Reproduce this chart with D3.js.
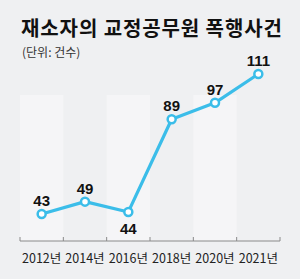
<!DOCTYPE html>
<html>
<head>
<meta charset="utf-8">
<script src="https://cdn.jsdelivr.net/npm/d3@7"></script>
<style>
  body { margin: 0; padding: 0; background: #fff; }
  svg { display: block; font-family: "Noto Sans CJK KR", "Noto Sans", sans-serif; }
</style>
</head>
<body>
<script>
var years = ["2012년", "2014년", "2016년", "2018년", "2020년", "2021년"];
var cases = [43, 49, 44, 89, 97, 111];
var labelBelow = [false, false, true, false, false, false];

var width = 300, height = 279;

var svg = d3.select("body").append("svg")
  .attr("width", width)
  .attr("height", height);

// background
svg.append("rect").attr("width", width).attr("height", height).attr("fill", "#eff0f2");

var x = d3.scaleBand().domain(years).range([20, 280]);
var y = d3.scaleLinear().domain([43, 111]).range([214, 74]);
var axisY = 241;

// lighter bands
svg.append("g").selectAll("rect")
  .data(years.filter(function(d, i) { return i % 2 == 0; }))
  .enter().append("rect")
  .attr("x", function(d) { return x(d); })
  .attr("y", 95)
  .attr("width", x.bandwidth())
  .attr("height", axisY - 95)
  .attr("fill", "#f5f5f7");

// title
svg.append("text").attr("x", 21).attr("y", 36)
  .attr("font-size", 20).attr("font-weight", "bold").attr("fill", "#111")
  .attr("letter-spacing", 0.9)
  .text("재소자의 교정공무원 폭행사건");
svg.append("text").attr("x", 22).attr("y", 57)
  .attr("font-size", 12).attr("fill", "#333")
  .text("(단위: 건수)");

// axis
var ax = svg.append("g").attr("transform", "translate(0," + axisY + ")");
ax.append("line").attr("x1", 20).attr("x2", 280).attr("stroke", "#8a8a8a").attr("stroke-width", 1);
ax.selectAll(".tk").data(d3.range(years.length + 1)).enter().append("line")
  .attr("x1", function(i) { return 20 + i * x.step(); })
  .attr("x2", function(i) { return 20 + i * x.step(); })
  .attr("y1", 0).attr("y2", -4)
  .attr("stroke", "#8a8a8a");
ax.selectAll(".lbl").data(years).enter().append("text")
  .attr("x", function(d) { return x(d) + x.bandwidth() / 2; })
  .attr("y", 22)
  .attr("text-anchor", "middle")
  .attr("font-size", 12.5)
  .attr("fill", "#222")
  .text(function(d) { return d; });

// line
var cx = function(d, i) { return x(years[i]) + x.bandwidth() / 2; };
var line = d3.line()
  .x(function(d, i) { return cx(d, i); })
  .y(function(d) { return y(d); });

svg.append("path").datum(cases)
  .attr("d", line)
  .attr("fill", "none")
  .attr("stroke", "#3bbde9")
  .attr("stroke-width", 3.2)
  .attr("stroke-linejoin", "round");

svg.append("g").selectAll("circle").data(cases).enter().append("circle")
  .attr("cx", cx)
  .attr("cy", function(d) { return y(d); })
  .attr("r", 4)
  .attr("fill", "#fff")
  .attr("stroke", "#3bbde9")
  .attr("stroke-width", 2.5);

svg.append("g").selectAll("text").data(cases).enter().append("text")
  .attr("x", cx)
  .attr("y", function(d, i) { return labelBelow[i] ? y(d) + 22 : y(d) - 8; })
  .attr("text-anchor", "middle")
  .attr("font-size", 15)
  .attr("font-weight", "bold")
  .attr("fill", "#111")
  .attr("font-family", "Liberation Sans, Arial, sans-serif")
  .text(function(d) { return d; });
</script>
</body>
</html>
